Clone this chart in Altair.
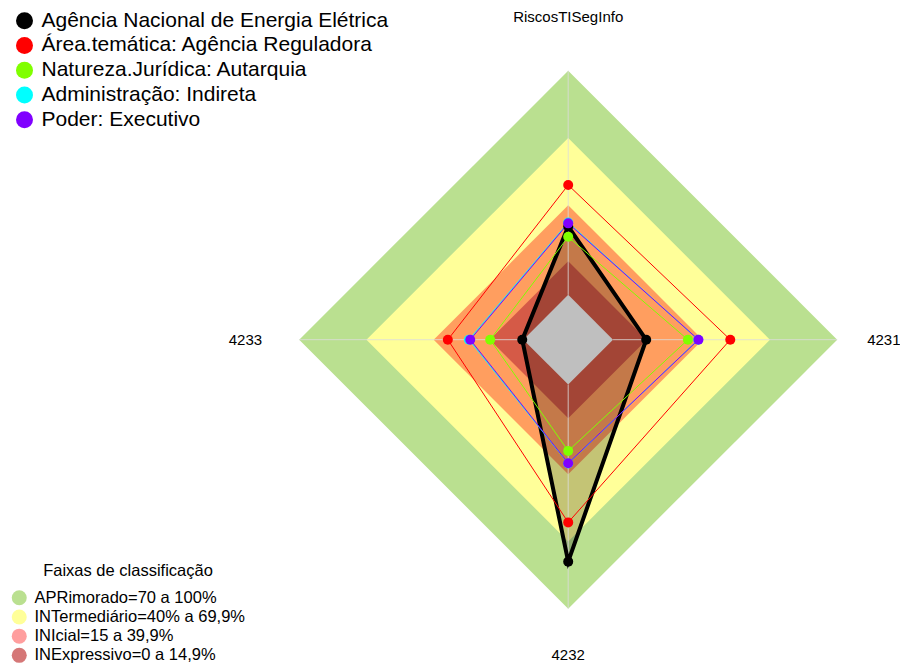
import altair as alt
import pandas as pd

# ---------------- data ----------------
EIXOS = ["RiscosTISegInfo", "4231", "4232", "4233"]  # clockwise from top

SERIES = [
    "Agência Nacional de Energia Elétrica",
    "Área.temática: Agência Reguladora",
    "Natureza.Jurídica: Autarquia",
    "Administração: Indireta",
    "Poder: Executivo",
]
V_ANEEL = [30.5, 14.8, 79.0, 0.5]
V_AREA = [49.0, 52.3, 61.5, 33.7]
V_NATUREZA = [25.9, 33.4, 29.6, 14.8]
V_ADMIN = [32.3, 38.0, 35.2, 24.3]
V_PODER = [31.9, 38.1, 35.1, 23.7]

FAIXAS = [
    "APRimorado=70 a 100%",
    "INTermediário=40% a 69,9%",
    "INIcial=15 a 39,9%",
    "INExpressivo=0 a 14,9%",
]
FAIXA_TOPO = [100, 70, 40, 15]

# ---------------- styles ----------------
CORES_SERIES = ["#000000", "#ff0000", "#80ff00", "#00ffff", "#8000ff"]
LARGURAS = [4, 1, 1, 1, 1]
CORES_FAIXAS = ["#bae090", "#ffff99", "rgba(255,0,0,0.38)", "rgba(195,61,61,0.7)"]
FONT = "Liberation Sans"

HOLE = 20      # empty centre of the radar (1/6 of the radius)
MAX = 100
N = len(EIXOS)

# plot geometry (scale domains)
W, H = 892, 656
CX, CY = 560.2, 331.7
PPU = 269 / (HOLE + MAX)
XDOM = [-CX / PPU, (W - CX) / PPU]
YDOM = [-(H - CY) / PPU, CY / PPU]

# ---------------- tables ----------------
valores = [V_ANEEL, V_AREA, V_NATUREZA, V_ADMIN, V_PODER]
df_series = pd.DataFrame(
    [{"serie": s, "k": k, "eixo": e, "valor": v[k]}
     for s, v in zip(SERIES, valores) for k, e in enumerate(EIXOS)]
)
df_faixas = pd.DataFrame(
    [{"faixa": f, "k": k, "valor": t}
     for f, t in zip(FAIXAS, FAIXA_TOPO) for k in range(N)]
)
df_eixos = pd.DataFrame({"eixo": EIXOS, "k": list(range(N))})
df_raios = pd.DataFrame(
    [{"k": k, "valor": v} for k in range(N) for v in (0, MAX)]
)

xs = alt.Scale(domain=XDOM, nice=False, zero=False)
ys = alt.Scale(domain=YDOM, nice=False, zero=False)
X = alt.X("px:Q", scale=xs, axis=None)
Y = alt.Y("py:Q", scale=ys, axis=None)


def polar(ch, rexpr):
    return (
        ch.transform_calculate(ang=f"datum.k * 2 * PI / {N}")
        .transform_calculate(r=rexpr)
        .transform_calculate(px="datum.r * sin(datum.ang)")
        .transform_calculate(py="datum.r * cos(datum.ang)")
    )


band_legend = alt.Legend(
    title="Faixas de classificação", orient="none", legendX=3, legendY=555,
    symbolType="circle", symbolSize=225, symbolStrokeWidth=0,
    labelFontSize=16.5, labelFont=FONT, labelColor="black", labelLimit=400,
    titleFontSize=16.5, titleFont=FONT, titleFontWeight="normal", titleColor="black",
    titleAnchor="middle", titlePadding=10, rowPadding=2.2, labelOffset=7, padding=0,
)
fill_scale = alt.Scale(domain=FAIXAS, range=CORES_FAIXAS)

layers = []
for f in FAIXAS:
    layers.append(
        polar(alt.Chart(df_faixas).transform_filter(alt.datum.faixa == f), f"{HOLE} + datum.valor")
        .mark_line(interpolate="linear-closed", stroke="transparent", strokeWidth=0)
        .encode(x=X, y=Y, order="k:Q",
                fill=alt.Fill("faixa:N", scale=fill_scale, legend=band_legend))
    )

# black series fill
layers.append(
    polar(alt.Chart(df_series).transform_filter(alt.datum.serie == SERIES[0]), f"{HOLE} + datum.valor")
    .mark_line(interpolate="linear-closed", stroke="transparent", strokeWidth=0)
    .encode(x=X, y=Y, order="k:Q", fill=alt.value("rgba(0,0,0,0.23)"))
)

# spokes
layers.append(
    polar(alt.Chart(df_raios), f"{HOLE} + datum.valor")
    .mark_line(stroke="#dcdcdc", strokeWidth=1, opacity=0.8)
    .encode(x=X, y=Y, detail="k:N", order="valor:Q")
)

# grey centre
layers.append(
    polar(alt.Chart(df_eixos), f"{HOLE}")
    .mark_line(interpolate="linear-closed", stroke="transparent", strokeWidth=0)
    .encode(x=X, y=Y, order="k:Q", fill=alt.value("#bfbfbf"))
)

# series outlines, one layer per series (drawn in series order)
for s, c, w in zip(SERIES, CORES_SERIES, LARGURAS):
    layers.append(
        polar(alt.Chart(df_series).transform_filter(alt.datum.serie == s), f"{HOLE} + datum.valor")
        .mark_line(interpolate="linear-closed", strokeWidth=w, stroke=c)
        .encode(x=X, y=Y, order="k:Q")
    )

series_legend = alt.Legend(
    title=None, orient="none", legendX=6, legendY=2.2,
    symbolType="circle", symbolSize=289, symbolStrokeWidth=0,
    labelFontSize=21, labelFont=FONT, labelColor="black", labelLimit=600,
    rowPadding=2.75, labelOffset=6.5, padding=0,
)
points = (
    polar(alt.Chart(df_series), f"{HOLE} + datum.valor")
    .mark_circle(size=100, opacity=1)
    .encode(x=X, y=Y,
            color=alt.Color("serie:N", scale=alt.Scale(domain=SERIES, range=CORES_SERIES),
                            legend=series_legend))
)
layers.append(points)

labels = (
    polar(alt.Chart(df_eixos),
          f"1.2 * {HOLE + MAX} - (datum.k == 1 ? 3.2 : datum.k == 2 ? 3.5 : 0)")
    .mark_text(fontSize=15, font=FONT, color="black", align="center", baseline="middle")
    .encode(x=X, y=Y, text="eixo:N")
)
layers.append(labels)

chart = (
    alt.layer(*layers)
    .properties(width=W, height=H, padding=0, autosize="none")
    .configure(font=FONT)
    .configure_view(strokeWidth=0)
)

chart.save("out.html", embed_options={"renderer": "svg", "actions": False})
